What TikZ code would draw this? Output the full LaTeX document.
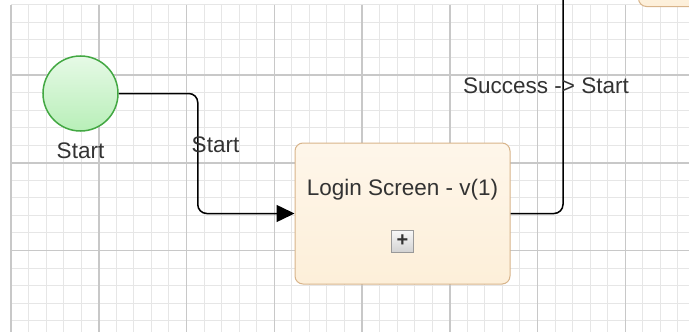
\documentclass[tikz,border=0pt]{standalone}
\usepackage{fontspec}
\setmainfont{Liberation Sans}
\usetikzlibrary{arrows.meta}

\definecolor{gridmin}{HTML}{E6E6E6}
\definecolor{gridmaj}{HTML}{C8C8C8}
\definecolor{txt}{HTML}{333333}
\definecolor{startfill}{HTML}{B8EFB8}
\definecolor{startline}{HTML}{43A843}
\definecolor{taskfill}{HTML}{FDEFD9}
\definecolor{taskline}{HTML}{D8B48A}

\begin{document}
\begin{tikzpicture}[x=1pt, y=-1pt,
  lbl/.style={text=txt, font=\fontsize{22.5}{27}\selectfont, inner sep=0pt, anchor=base},
  task/.style={rectangle, rounded corners=8pt, draw=taskline, line width=1pt,
    top color=taskfill!55, bottom color=taskfill, minimum width=215pt, minimum height=141pt},
  flow/.style={draw=black, line width=1.5pt, rounded corners=9pt}]
  \useasboundingbox (0,0) rectangle (689,332);
  \clip (0,0) rectangle (689,332);
  \fill[white] (0,0) rectangle (689,332);

  % grid: minor lines, then major lines every 5th
  \foreach \i in {0,...,38} \draw[gridmin, line width=1pt] ({11+\i*17.55},4.8) -- ++(0,330);
  \foreach \j in {0,...,18} \draw[gridmin, line width=1pt] (11,{4.8+\j*17.55}) -- (689,{4.8+\j*17.55});
  \foreach \i in {0,...,7} \draw[gridmaj, line width=1.5pt] ({11+\i*87.75},4.8) -- ++(0,330);
  \foreach \j in {0,...,2} \draw[gridmaj, line width=1.5pt] (11,{75+\j*87.75}) -- (689,{75+\j*87.75});

  \node[circle, minimum size=75pt, draw=startline, line width=1.5pt,
    top color=startfill!35, bottom color=startfill] (start) at (80.5,93.5) {};
  \node[lbl] (startlbl) at (80.5,158) {Start};

  \node[task] (login) at (402.5,213.5) {};
  \node[lbl] (logintxt) at ([yshift=18.5pt]login.center) {Login Screen - v(1)};
  \node[draw=gray!80, line width=1pt, top color=gray!5, bottom color=gray!35,
    minimum size=22pt, inner sep=0pt, text=black!80, font=\fontsize{20}{20}\bfseries]
    (expand) at ([yshift=-27.5pt]login.center) {+};

  % next task, mostly outside the view
  \node[task, minimum width=100pt, minimum height=60pt, anchor=south west] (next) at (638,7) {};

  \coordinate (up) at (563,-5);
  \draw[flow, -{Triangle[length=18pt, width=17pt]}] (start.east) -- ++(79,0) |- (login.west);
  \draw[flow] (login.east) -| (up);

  \node[lbl] (lblstart) at (215.5,152) {Start};
  \node[lbl] (lblsuccess) at (546,93) {Success -> Start};
\end{tikzpicture}
\end{document}
